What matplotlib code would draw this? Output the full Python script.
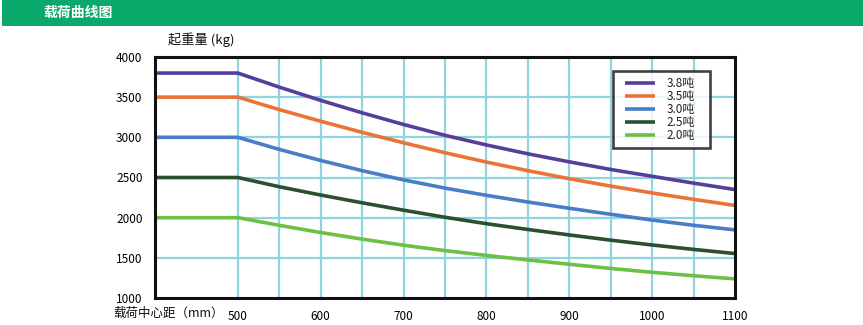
import matplotlib
matplotlib.use("Agg")
import matplotlib.pyplot as plt
from matplotlib.lines import Line2D
from matplotlib.legend_handler import HandlerLine2D
from matplotlib.patches import Rectangle

plt.rcParams["font.family"] = ["Noto Sans CJK SC", "DejaVu Sans"]

# load centre distance (mm)
centers = [400, 500, 550, 600, 650, 700, 750, 800, 850, 900, 950, 1000, 1050, 1100]

# rated load (kg) per truck capacity
load_38 = [3800, 3800, 3625, 3460, 3305, 3160, 3025, 2905, 2795, 2695, 2600, 2515, 2430, 2350]
load_35 = [3500, 3500, 3345, 3200, 3062, 2932, 2808, 2692, 2585, 2485, 2393, 2308, 2228, 2152]
load_30 = [3000, 3000, 2850, 2712, 2585, 2470, 2368, 2278, 2195, 2117, 2042, 1970, 1905, 1848]
load_25 = [2500, 2500, 2385, 2282, 2185, 2093, 2005, 1925, 1853, 1785, 1720, 1660, 1605, 1553]
load_20 = [2000, 2000, 1905, 1815, 1733, 1657, 1590, 1530, 1474, 1420, 1368, 1320, 1277, 1238]

series_labels = ["3.8吨", "3.5吨", "3.0吨", "2.5吨", "2.0吨"]
series_colors = ["#553f9b", "#ea7338", "#4a7cc8", "#2b5030", "#6cc044"]

x_ticks = [500, 600, 700, 800, 900, 1000, 1100]
y_ticks = [1000, 1500, 2000, 2500, 3000, 3500, 4000]

fig = plt.figure(figsize=(8.63, 3.25), dpi=100)

# header bar
fig.patches.append(Rectangle((0.002, 1 - 26 / 325), 0.998, 26 / 325,
                             transform=fig.transFigure, facecolor="#0aa86b",
                             edgecolor="none", zorder=0))
fig.text(43 / 863, 1 - 12.5 / 325, "载荷曲线图", color="white", fontsize=10,
         fontweight="bold", ha="left", va="center")

ax = fig.add_axes([155 / 863, 27 / 325, 580 / 863, 241 / 325])

for vals, lab, col in zip([load_38, load_35, load_30, load_25, load_20],
                          series_labels, series_colors):
    ax.plot(centers, vals, color=col, linewidth=2.6, label=lab,
            solid_capstyle="butt", zorder=3)

ax.set_xlim(400, 1100)
ax.set_ylim(1000, 4000)
ax.set_xticks(x_ticks)
ax.set_yticks(y_ticks)
ax.tick_params(length=0, labelsize=8.5, pad=9)

# grid every 50 mm and 500 kg
for xv in range(500, 1100, 50):
    ax.axvline(xv, color="#8fd4de", linewidth=1.6, zorder=1)
for yv in range(1500, 4000, 500):
    ax.axhline(yv, color="#8fd4de", linewidth=1.6, zorder=1)

for s in ax.spines.values():
    s.set_linewidth(2.2)
    s.set_color("#111111")
    s.set_zorder(4)

leg = ax.legend(loc="upper left", bbox_to_anchor=(0.79, 0.0, 0.167, 0.94),
                mode="expand", fontsize=8.5, frameon=True, fancybox=False,
                handlelength=3.05, handletextpad=0.95, labelspacing=0.0,
                borderpad=0.5, borderaxespad=0,
                handler_map={Line2D: HandlerLine2D(xpad=0.5)})
leg.get_frame().set_edgecolor("#111111")
leg.get_frame().set_linewidth(1.9)
leg.set_zorder(5)
for t in leg.get_texts():
    t.set_color("#222222")

fig.text(168 / 863, 1 - 40 / 325, "起重量 (kg)", fontsize=9.5, ha="left",
         va="center", color="#111111")
fig.text(113 / 863, 1 - 313 / 325, "载荷中心距（mm）", fontsize=9, ha="left",
         va="center", color="#111111")

fig.savefig("out.png", dpi=100)
